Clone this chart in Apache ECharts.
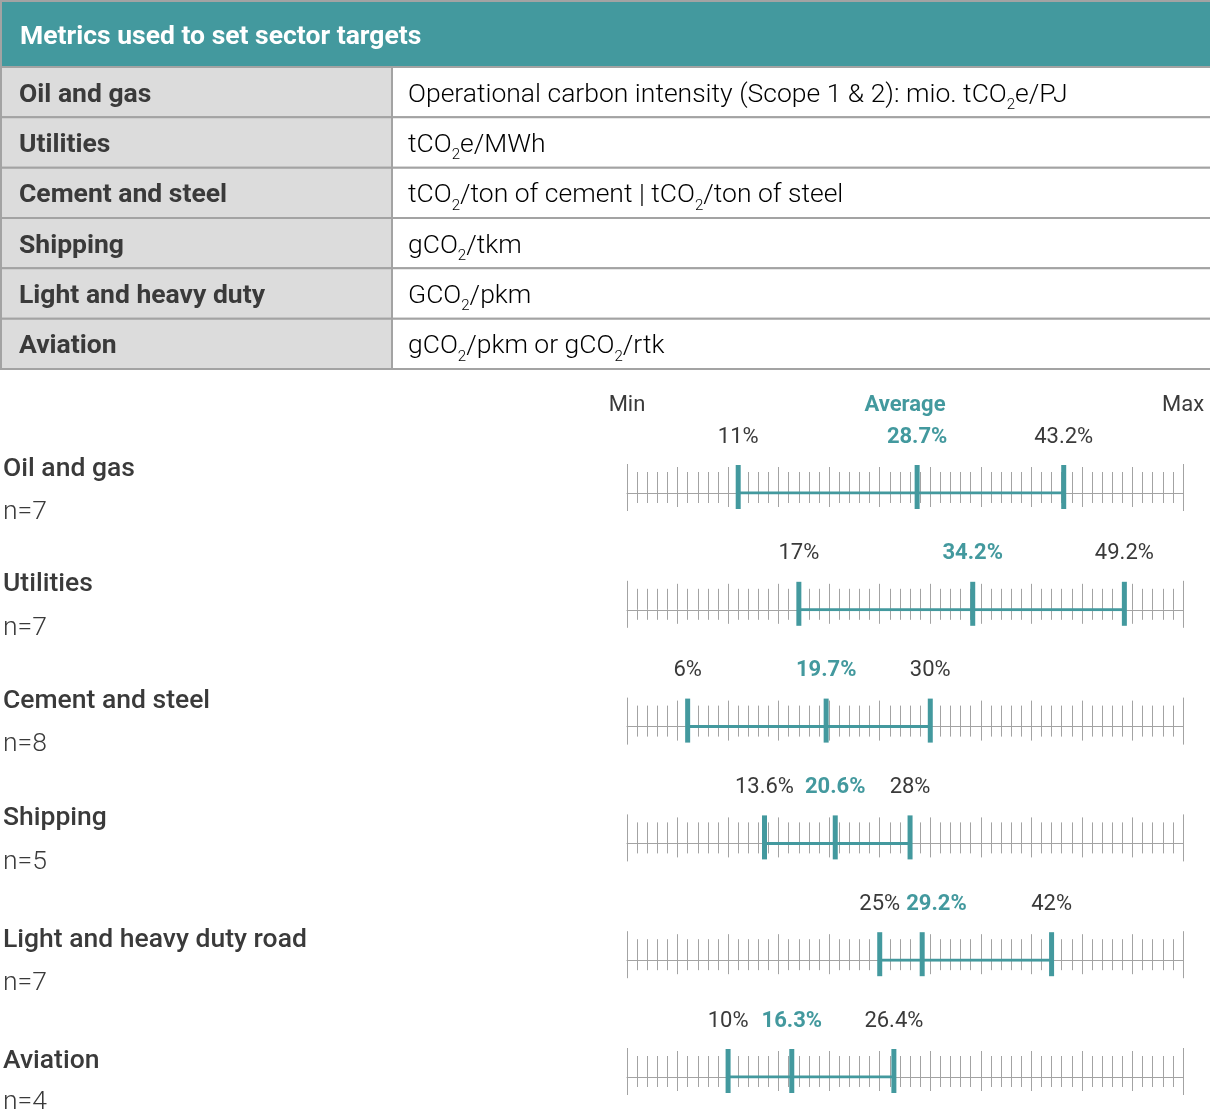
<!DOCTYPE html>
<html>
<head>
<meta charset="utf-8">
<script src="https://cdn.jsdelivr.net/npm/echarts@6/dist/echarts.min.js"></script>
<style>
  html, body { margin: 0; padding: 0; background: #ffffff; }
  #chart { width: 1210px; height: 1110px; }
</style>
</head>
<body>
<div id="chart"></div>
<script>
// ---- Table: metrics per sector ----
const tableTitle = 'Metrics used to set sector targets';
const metricSectors = ['Oil and gas', 'Utilities', 'Cement and steel', 'Shipping', 'Light and heavy duty', 'Aviation'];
// "_2" marks a subscript 2
const metricUnits = [
  'Operational carbon intensity (Scope 1 & 2): mio. tCO_2e/PJ',
  'tCO_2e/MWh',
  'tCO_2/ton of cement | tCO_2/ton of steel',
  'gCO_2/tkm',
  'GCO_2/pkm',
  'gCO_2/pkm or gCO_2/rtk'
];

// ---- Ranges of sector targets (%) ----
const targetSectors = ['Oil and gas', 'Utilities', 'Cement and steel', 'Shipping', 'Light and heavy duty road', 'Aviation'];
const sampleSizes = [7, 7, 8, 5, 7, 4];
const minTargets = [11, 17, 6, 13.6, 25, 10];
const avgTargets = [28.7, 34.2, 19.7, 20.6, 29.2, 16.3];
const maxTargets = [43.2, 49.2, 30, 28, 42, 26.4];
const scaleHeaders = ['Min', 'Average', 'Max'];
const scaleMin = 0;
const scaleMax = 55;
const majorStep = 5;

// ---- Styling ----
const TEAL = '#43999e';
const TEXT = '#3a3a3a';
const GRID_GRAY = '#a3a3a3';
const FONT = 'Roboto, "Noto Sans", sans-serif';
const BIG = 26.5;   // table and row titles
const SMALL = 22;   // scale headers and value labels

const chart = echarts.init(document.getElementById('chart'), null, { renderer: 'canvas' });

// Turn "tCO_2e" into rich text with a subscript token
function toRich(str) {
  return '{m|' + str.split('_2').join('}{s|2}{m|') + '}';
}

// Text width helper, used to keep neighbouring value labels apart
const measureCtx = document.createElement('canvas').getContext('2d');
function textWidth(str, font) {
  measureCtx.font = font;
  return measureCtx.measureText(str).width;
}

const graphics = [];

// Table geometry
const tblLeft = 1, tblRight = 1214, headTop = 1, headBottom = 67;
const rowH = (369 - headBottom) / metricSectors.length;
const colSplit = 392;

graphics.push({
  type: 'rect', shape: { x: tblLeft, y: headTop, width: tblRight - tblLeft, height: headBottom - headTop },
  style: { fill: TEAL, stroke: GRID_GRAY, lineWidth: 2 }, z: 1
});
graphics.push({
  type: 'text', x: 20, y: (headTop + headBottom) / 2 + 3, z: 3,
  style: { text: tableTitle, fill: '#ffffff', font: 'bold ' + BIG + 'px ' + FONT, verticalAlign: 'middle' }
});

metricSectors.forEach((name, i) => {
  const top = headBottom + i * rowH;
  graphics.push({
    type: 'rect', shape: { x: tblLeft, y: top, width: colSplit - tblLeft, height: rowH },
    style: { fill: '#dcdcdc', stroke: GRID_GRAY, lineWidth: 2 }, z: 1
  });
  graphics.push({
    type: 'rect', shape: { x: colSplit, y: top, width: tblRight - colSplit, height: rowH },
    style: { fill: '#ffffff', stroke: GRID_GRAY, lineWidth: 2 }, z: 1
  });
  graphics.push({
    type: 'text', x: 19, y: top + rowH / 2 + 3, z: 3,
    style: { text: name, fill: TEXT, font: 'bold ' + BIG + 'px ' + FONT, verticalAlign: 'middle' }
  });
  graphics.push({
    type: 'text', x: 408, y: top + rowH / 2 + 3, z: 3,
    style: {
      text: toRich(metricUnits[i]), verticalAlign: 'middle',
      rich: {
        m: { fontFamily: FONT, fontSize: BIG, fontWeight: 300, color: TEXT, lineHeight: 30 },
        // top padding pushes the subscript below the baseline
        s: { fontFamily: FONT, fontSize: 15, fontWeight: 300, color: TEXT, lineHeight: 16, padding: [20, 0, 0, 0] }
      }
    }
  });
});

// Range rows geometry
const axisLeft = 627, axisRight = 1183;
const pxPerUnit = (axisRight - axisLeft) / (scaleMax - scaleMin);
const firstBaseline = 493, rowStep = 116.8;
const nameOffsets = [-24, -25, -25, -25, -20, -16];
const countOffsets = [19, 19, 18, 19, 23, 25];

// Column headers above the scale
scaleHeaders.forEach((h, k) => {
  const x = axisLeft + (axisRight - axisLeft) * k / (scaleHeaders.length - 1);
  graphics.push({
    type: 'text', x: x, y: 405, z: 3,
    style: {
      text: h, fill: k === 1 ? TEAL : TEXT,
      font: (k === 1 ? 'bold ' : '') + SMALL + 'px ' + FONT,
      align: 'center', verticalAlign: 'middle'
    }
  });
});

targetSectors.forEach((name, i) => {
  const base = firstBaseline + i * rowStep;
  graphics.push({
    type: 'text', x: 3, y: base + nameOffsets[i], z: 3,
    style: { text: name, fill: TEXT, font: '500 ' + BIG + 'px ' + FONT, verticalAlign: 'middle' }
  });
  graphics.push({
    type: 'text', x: 3, y: base + countOffsets[i], z: 3,
    style: { text: 'n=' + sampleSizes[i], fill: TEXT, font: '300 ' + BIG + 'px ' + FONT, verticalAlign: 'middle' }
  });
});

// One small grid per sector: a ruler scale with the min/avg/max marks
const grids = [], xAxes = [], yAxes = [], series = [];
const tickStyle = { color: GRID_GRAY, width: 1 };

targetSectors.forEach((name, i) => {
  const base = firstBaseline + i * rowStep;
  grids.push({
    left: axisLeft, width: axisRight - axisLeft, top: base - 40, height: 40,
    outerBoundsMode: 'none', containLabel: false
  });
  const common = {
    gridIndex: i, type: 'value', min: scaleMin, max: scaleMax, position: 'bottom',
    axisLabel: { show: false }, splitLine: { show: false }
  };
  // ticks above the line
  xAxes.push(Object.assign({}, common, {
    interval: majorStep,
    axisLine: { show: true, onZero: false, lineStyle: { color: GRID_GRAY, width: 1 } },
    axisTick: { show: true, inside: true, length: 26, lineStyle: tickStyle },
    minorTick: { show: true, splitNumber: 5, length: 21, lineStyle: tickStyle }
  }));
  // ticks below the line
  xAxes.push(Object.assign({}, common, {
    interval: majorStep,
    axisLine: { show: false },
    axisTick: { show: true, inside: false, length: 14, lineStyle: tickStyle },
    minorTick: { show: true, splitNumber: 5, length: 10, lineStyle: tickStyle }
  }));
  // longer end ticks at the ends of the scale
  xAxes.push(Object.assign({}, common, {
    interval: scaleMax - scaleMin,
    axisLine: { show: false },
    axisTick: { show: true, inside: true, length: 29, lineStyle: tickStyle },
    minorTick: { show: false }
  }));
  xAxes.push(Object.assign({}, common, {
    interval: scaleMax - scaleMin,
    axisLine: { show: false },
    axisTick: { show: true, inside: false, length: 18, lineStyle: tickStyle },
    minorTick: { show: false }
  }));
  yAxes.push({ gridIndex: i, type: 'value', min: 0, max: 1, show: false });

  series.push({
    type: 'line', xAxisIndex: i * 4, yAxisIndex: i,
    data: [[minTargets[i], 0], [maxTargets[i], 0]],
    symbol: 'none', lineStyle: { color: TEAL, width: 3 }, z: 3,
    silent: true
  });

  // nudge the average label sideways if it would touch its neighbour
  const fmt = v => v + '%';
  const wMin = textWidth(fmt(minTargets[i]), SMALL + 'px ' + FONT);
  const wMax = textWidth(fmt(maxTargets[i]), SMALL + 'px ' + FONT);
  const wAvg = textWidth(fmt(avgTargets[i]), 'bold ' + SMALL + 'px ' + FONT);
  const gap = 6;
  let shift = 0;
  const leftRoom = (avgTargets[i] - minTargets[i]) * pxPerUnit - (wMin + wAvg) / 2 - gap;
  const rightRoom = (maxTargets[i] - avgTargets[i]) * pxPerUnit - (wMax + wAvg) / 2 - gap;
  if (leftRoom < 0) shift = -leftRoom;
  else if (rightRoom < 0) shift = rightRoom;

  const plainLabel = { color: TEXT, fontWeight: 400 };
  const avgLabel = { color: TEAL, fontWeight: 'bold', offset: [shift, 0] };
  series.push({
    type: 'scatter', xAxisIndex: i * 4, yAxisIndex: i,
    symbol: 'rect', symbolSize: [5, 44], symbolOffset: [0, -6],
    itemStyle: { color: TEAL, opacity: 1 }, z: 4, silent: true,
    label: {
      show: true, position: 'top', distance: 17,
      fontFamily: FONT, fontSize: SMALL,
      formatter: p => fmt(p.value[0])
    },
    data: [
      { value: [minTargets[i], 0], label: plainLabel },
      { value: [avgTargets[i], 0], label: avgLabel },
      { value: [maxTargets[i], 0], label: plainLabel }
    ]
  });
});

chart.setOption({
  backgroundColor: '#ffffff',
  animation: false,
  textStyle: { fontFamily: FONT },
  grid: grids,
  xAxis: xAxes,
  yAxis: yAxes,
  series: series,
  graphic: graphics
});
</script>
</body>
</html>
